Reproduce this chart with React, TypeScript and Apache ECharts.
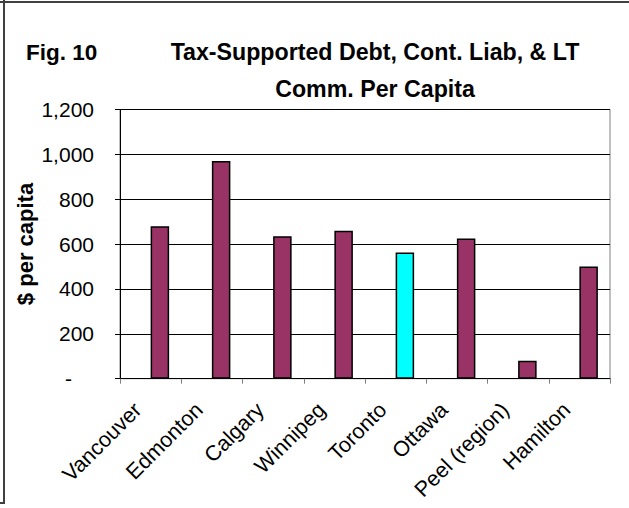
import React, { useEffect, useRef } from "react";
import * as echarts from "echarts";

const categories = ["Vancouver", "Edmonton", "Calgary", "Winnipeg", "Toronto", "Ottawa", "Peel (region)", "Hamilton"];
const perCapita = [680, 970, 635, 660, 563, 625, 80, 500];
const placeholder = [null, null, null, null, null, null, null, null];
const highlighted = "Toronto";
const yTicks = { min: 0, max: 1200, interval: 200 };
const figLabel = "Fig. 10";
const titleLines = ["Tax-Supported Debt, Cont. Liab, & LT", "Comm. Per Capita"];
const yName = "$ per capita";

const FONT = '"Liberation Sans", Arial, sans-serif';

export default function App() {
  const ref = useRef<HTMLDivElement>(null);
  useEffect(() => {
    document.body.style.margin = "0";
    const chart = echarts.init(ref.current!, null, { renderer: "svg" });
    chart.setOption({
      animation: false,
      backgroundColor: "#ffffff",
      textStyle: { fontFamily: FONT },
      grid: {
        left: 120,
        right: 19,
        top: 109.5,
        bottom: 129.3,
        show: true,
        borderColor: "#808080",
        borderWidth: 1,
        backgroundColor: "transparent",
      },
      graphic: [
        { type: "line", shape: { x1: 0, y1: 2, x2: 629, y2: 2 }, style: { stroke: "#404040", lineWidth: 2 } },
        { type: "line", shape: { x1: 4, y1: 0, x2: 4, y2: 504 }, style: { stroke: "#404040", lineWidth: 2 } },
        { type: "line", shape: { x1: 0, y1: 503, x2: 5, y2: 503 }, style: { stroke: "#404040", lineWidth: 2 } },
        {
          type: "text",
          x: 26,
          y: 52,
          style: { text: figLabel, font: `bold 22.5px ${FONT}`, fill: "#000", textAlign: "left", textVerticalAlign: "middle" },
        },
        {
          type: "text",
          x: 375,
          y: 52,
          style: { text: titleLines[0], font: `bold 23.2px ${FONT}`, fill: "#000", textAlign: "center", textVerticalAlign: "middle" },
        },
        {
          type: "text",
          x: 375,
          y: 89,
          style: { text: titleLines[1], font: `bold 23.2px ${FONT}`, fill: "#000", textAlign: "center", textVerticalAlign: "middle" },
        },
        {
          type: "text",
          x: 25,
          y: 244,
          rotation: Math.PI / 2,
          style: { text: yName, font: `bold 22px ${FONT}`, fill: "#000", textAlign: "center", textVerticalAlign: "middle" },
        },
      ],
      xAxis: {
        type: "category",
        data: categories,
        boundaryGap: true,
        axisLine: { show: true, lineStyle: { color: "#000", width: 1 } },
        axisTick: { show: true, length: 5, inside: false, lineStyle: { color: "#808080" } },
        axisLabel: {
          rotate: 45,
          fontSize: 21.5,
          color: "#000",
          margin: 15,
          interval: 0,
          fontFamily: FONT,
          formatter: (v: string) => `{a|${v}}`,
          rich: { a: { fontSize: 21.5, color: "#000", fontFamily: FONT, padding: [0, 18, 0, 0] } },
        },
        splitLine: { show: false },
      },
      yAxis: {
        type: "value",
        min: yTicks.min,
        max: yTicks.max,
        interval: yTicks.interval,
        axisLine: { show: true, lineStyle: { color: "#000", width: 1 } },
        axisTick: { show: true, length: 5, inside: false, lineStyle: { color: "#000" } },
        splitLine: { show: true, lineStyle: { color: "#000", width: 1 } },
        axisLabel: {
          fontSize: 21,
          color: "#000",
          margin: 26,
          fontFamily: FONT,
          formatter: (v: number) => (v === 0 ? "{z|-}" : v.toLocaleString("en-US")),
          rich: { z: { fontSize: 21, color: "#000", padding: [0, 22, 0, 0], fontFamily: FONT } },
        },
      },
      series: [
        {
          type: "bar",
          data: placeholder,
          barWidth: 18.5,
          barGap: "0%",
          silent: true,
        },
        {
          type: "bar",
          data: categories.map((c, i) => ({
            value: perCapita[i],
            itemStyle: { color: c === highlighted ? "#00FFFF" : "#993366" },
          })),
          barWidth: 18.5,
          barGap: "0%",
          itemStyle: { borderColor: "#000", borderWidth: 1.5 },
        },
      ],
    });
    return () => chart.dispose();
  }, []);
  return <div ref={ref} style={{ width: 629, height: 508 }} />;
}
